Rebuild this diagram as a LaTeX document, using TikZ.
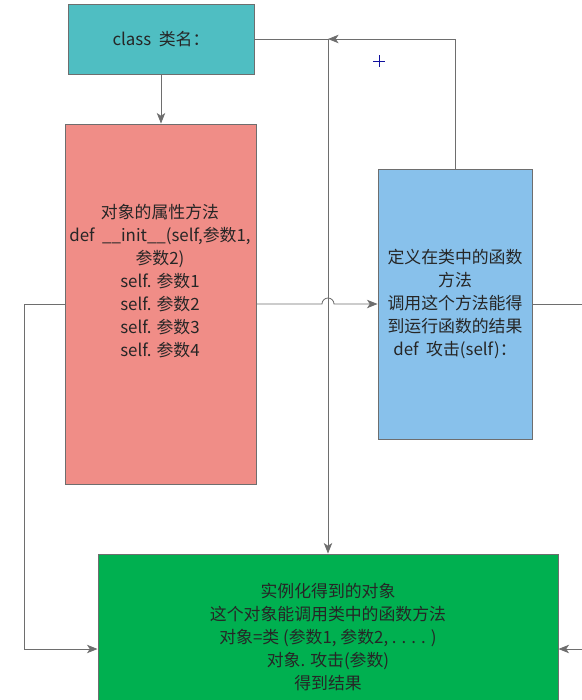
\documentclass[tikz,border=0pt]{standalone}
\usepackage{fontspec}
\setmainfont{Noto Sans CJK SC}
\usepackage{xcolor}
\usepackage{tikz}
\usetikzlibrary{shapes,arrows,arrows.meta}
\definecolor{bteal}{HTML}{4FBEC2}
\definecolor{bred}{HTML}{F08D87}
\definecolor{bblue}{HTML}{88C1EB}
\definecolor{bgreen}{HTML}{00B050}
\definecolor{bline}{HTML}{6E6E6E}
\definecolor{bnavy}{HTML}{10109E}
\tikzstyle{rectblock} = [rectangle, draw=bline, line width=0.6pt, align=center, inner sep=0pt, font=\fontsize{12}{16.3}\selectfont, text=black!85]
\tikzstyle{txt} = [align=center, font=\fontsize{12}{16.3}\selectfont, text=black!85]
\tikzstyle{wire} = [draw=bline, line width=0.6pt]
\tikzstyle{arrow} = [wire, -{Stealth[length=7.5pt, width=6pt, inset=2pt]}]

\begin{document}
\begin{tikzpicture}[x=0.025cm, y=0.025cm]
    \useasboundingbox (0,0) rectangle (582,-700);
    \clip (0,0) rectangle (582,-700);

    % boxes
    \node[rectblock, fill=bteal, minimum width=4.65cm, minimum height=1.75cm] at (161,-39) (cls) {class\ \ 类名：};
    \node[rectblock, fill=bred, minimum width=4.775cm, minimum height=9cm] at (160.5,-304) (red) {};
    \node[rectblock, fill=bblue, minimum width=3.85cm, minimum height=6.75cm] at (455,-304) (blu) {定义在类中的函数\\方法\\调用这个方法能得\\到运行函数的结果\\def\ \ 攻击(self)：};
    \node[rectblock, fill=bgreen, minimum width=11.5cm, minimum height=4.75cm] at (328,-649) (grn) {};

    % texts
    \node[txt] at (160,-281) (redtxt) {对象的属性方法\\def\ \ \_\_init\_\_(self,参数1,\\参数2)\\self. 参数1\\self. 参数2\\self. 参数3\\self. 参数4};
    \node[txt] at (328,-637) (grntxt) {实例化得到的对象\\这个对象能调用类中的函数方法\\对象=类 (参数1, 参数2, . . . . )\\对象. 攻击(参数)\\得到结果};

    % connectors
    \coordinate (jn) at (328,-39);
    \path[arrow] (cls.south) -- (cls.south |- red.north);
    \path[wire] (cls.east) -- (jn);
    \path[arrow] (jn) -- (jn |- grn.north);
    \path[arrow] (blu.north) |- (jn);
    \path[arrow] (red.east) -- ([xshift=-0.15cm]jn |- red.east) arc[start angle=180, end angle=0, radius=0.15cm] -- (blu.west);
    \path[arrow] (red.west) -- ++(-40,0) |- (grn.west);
    \path[arrow] (blu.east) -- ++(60,0) |- (grn.east);

    % cursor mark
    \draw[bnavy, line width=0.5pt] (379,-55) -- (379,-67) (373,-61) -- (385,-61);
\end{tikzpicture}
\end{document}
